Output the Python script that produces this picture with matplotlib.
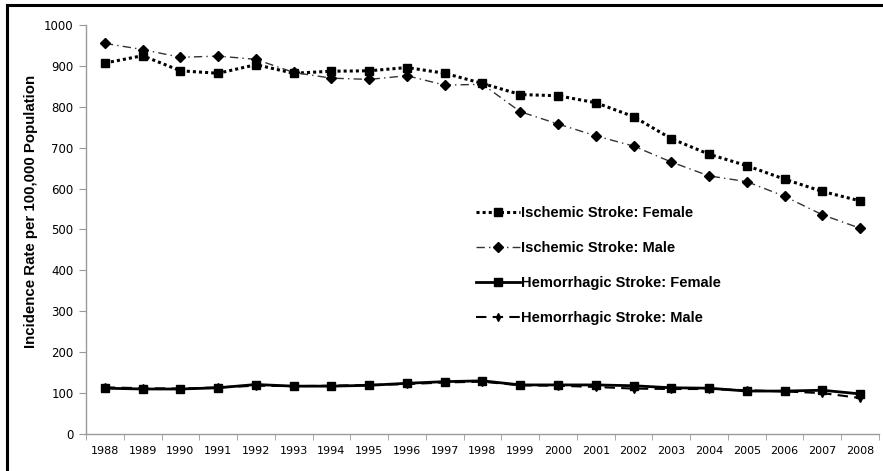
import matplotlib
matplotlib.use("Agg")
import matplotlib.pyplot as plt
from matplotlib.lines import Line2D
import numpy as np

years = ["1988", "1989", "1990", "1991", "1992", "1993", "1994", "1995", "1996", "1997",
         "1998", "1999", "2000", "2001", "2002", "2003", "2004", "2005", "2006", "2007", "2008"]
isch_female = [907, 925, 888, 882, 903, 882, 887, 888, 896, 882,
               857, 830, 827, 810, 776, 722, 684, 656, 623, 593, 570]
isch_male = [955, 940, 921, 924, 916, 884, 870, 867, 876, 853,
             855, 788, 758, 729, 704, 665, 631, 617, 581, 536, 503]
hem_female = [112, 110, 110, 113, 121, 117, 117, 119, 124, 128,
              130, 120, 120, 120, 118, 113, 112, 105, 105, 107, 98]
hem_male = [114, 112, 111, 114, 118, 117, 118, 120, 122, 126,
            128, 119, 118, 115, 111, 110, 110, 107, 104, 100, 88]
labels = ["Ischemic Stroke: Female", "Ischemic Stroke: Male",
          "Hemorrhagic Stroke: Female", "Hemorrhagic Stroke: Male"]
yticks = [0, 100, 200, 300, 400, 500, 600, 700, 800, 900, 1000]

plt.rcParams['font.family'] = ['Liberation Sans', 'DejaVu Sans']

W, H = 883, 471
fig = plt.figure(figsize=(W / 100, H / 100), dpi=100)
ax = fig.add_axes([86 / W, 1 - 434 / H, (879 - 86) / W, (434 - 25) / H])

x = np.arange(len(years))
ax.plot(x, isch_female, linestyle=(0, (1, 1)), color='black', lw=2.2,
        marker='s', markersize=5.5, label=labels[0])
ax.plot(x, isch_male, linestyle=(0, (6, 3, 1, 3)), color='#333333', lw=1.0,
        marker='D', markersize=5, markerfacecolor='black', markeredgecolor='black',
        label=labels[1])
ax.plot(x, hem_female, linestyle='-', color='black', lw=2.0,
        marker='s', markersize=5.5, label=labels[2])
ax.plot(x, hem_male, linestyle=(0, (5, 3)), color='black', lw=1.5,
        marker='d', markersize=4, label=labels[3])

ax.set_xlim(-0.5, len(years) - 0.5)
ax.set_ylim(0, 1000)
ax.set_yticks(yticks)
ax.set_yticklabels([str(v) for v in yticks], fontsize=8.5, family=['DejaVu Sans'])
ax.set_xticks(x)
ax.set_xticklabels(years, fontsize=8, family=['DejaVu Sans'])
ax.set_xticks(np.arange(-0.5, len(years), 1), minor=True)
ax.tick_params(axis='x', which='major', length=0, pad=9)
ax.tick_params(axis='x', which='minor', length=4, color='#999999', direction='out')
ax.tick_params(axis='y', length=5, color='#999999', direction='out', pad=4)

for s in ['top', 'right']:
    ax.spines[s].set_visible(False)
for s in ['left', 'bottom']:
    ax.spines[s].set_color('#999999')
    ax.spines[s].set_linewidth(1.0)

ax.set_ylabel("Incidence Rate per 100,000 Population", fontsize=10.8,
              fontweight='bold')
ax.yaxis.set_label_coords(-0.061, 0.545)

leg = ax.legend(loc='upper left', bbox_to_anchor=(0.475, 0.59), frameon=False,
                fontsize=10.5, handlelength=3.0, labelspacing=1.45, handletextpad=0.1)
for t in leg.get_texts():
    t.set_fontweight('bold')

fig.add_artist(Line2D([7 / W, 7 / W], [0, 1 - 5 / H], color='black', lw=2.2,
                      transform=fig.transFigure))
fig.add_artist(Line2D([7 / W, 1], [1 - 5 / H, 1 - 5 / H], color='black', lw=2.2,
                      transform=fig.transFigure))

fig.savefig("out.png", dpi=100)
